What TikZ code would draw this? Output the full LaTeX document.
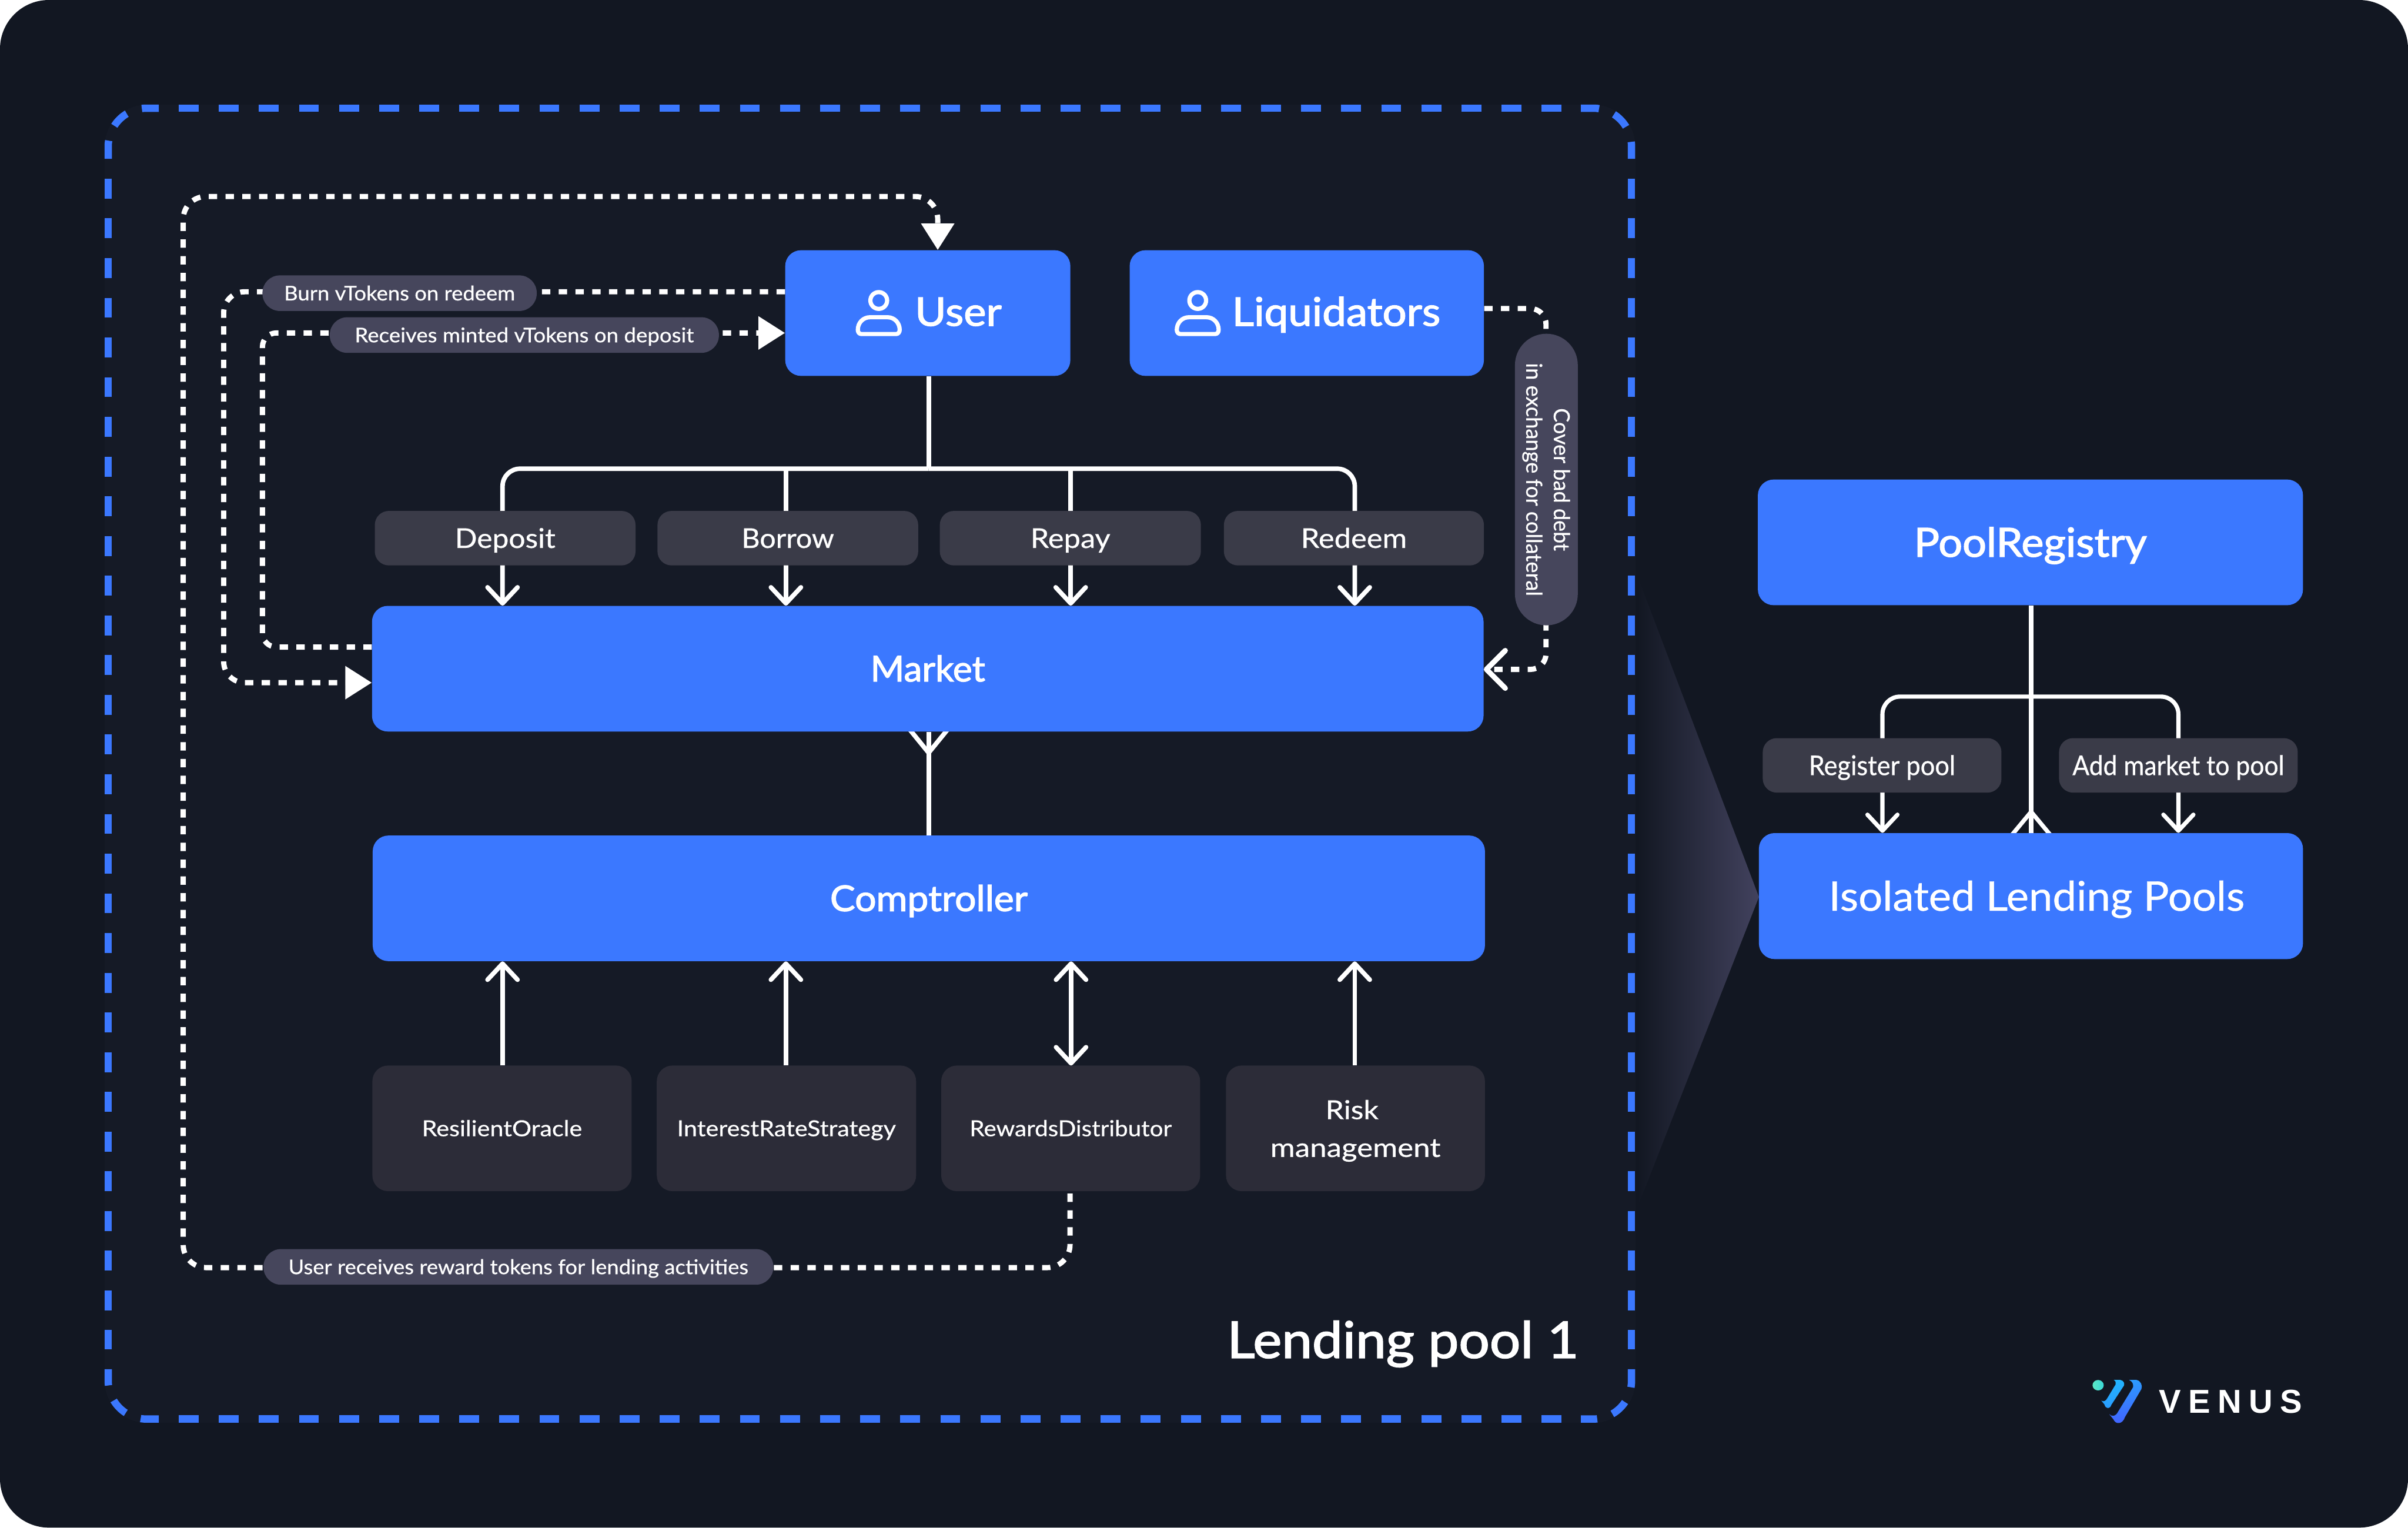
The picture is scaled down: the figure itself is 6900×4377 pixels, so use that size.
\documentclass[tikz,border=0pt]{standalone}
\usepackage{fontspec}
\usepackage{graphicx}
\usetikzlibrary{arrows.meta,calc}
\setmainfont[FakeBold=0.6]{Lato}
\newfontfamily\medfont[FakeBold=2]{Lato}
\newfontfamily\venusfont[LetterSpace=22]{Liberation Sans Bold}
\definecolor{pagebg}{HTML}{121722}
\definecolor{framebg}{HTML}{151A26}
\definecolor{vblue}{HTML}{3B78FF}
\definecolor{actionpill}{HTML}{3A3B48}
\definecolor{lowerbox}{HTML}{2C2C38}
\definecolor{labelpill}{HTML}{46465C}
\definecolor{fanend}{HTML}{42425E}
\definecolor{logomintA}{HTML}{5CE8C4}
\definecolor{logomintB}{HTML}{3AD8D8}
\definecolor{logoA}{HTML}{22B4FF}
\definecolor{logoB}{HTML}{2A9CFF}
\definecolor{logoC}{HTML}{2C9AFF}
\definecolor{logoD}{HTML}{4263FF}
\newlength\ut \setlength\ut{0.01cm}
\newlength\tmpl
\newcommand\fittxt[3]{{\setlength\tmpl{#1\ut}\fontsize{\tmpl}{\tmpl}\selectfont\raisebox{-.358em}[0pt][0pt]{\resizebox{#2\ut}{\height}{#3}}}}
\newcommand\bxnode[7]{\node[#1,minimum width={(#5-#3)*0.01cm},minimum height={(#6-#4)*0.01cm}] (#2) at ({(#3+#5)/2},{(#4+#6)/2}) {#7};}
\newcommand\personicon[1]{\begin{scope}[shift={(#1,0)}]
  \draw[iconline] (0,861) circle [radius=24];
  \draw[iconline] (-50,957) -- (50,957) .. controls (56,957) and (60,952) .. (60,945) .. controls (60,925) and (45,909) .. (25,909) -- (-25,909) .. controls (-45,909) and (-60,925) .. (-60,945) .. controls (-60,952) and (-56,957) .. (-50,957) -- cycle;
\end{scope}}
\pgfdeclarelayer{under}
\pgfsetlayers{under,main}
\tikzset{
  blockbox/.style={fill=vblue,rounded corners=0.45cm,inner sep=0pt,text=white},
  actionbox/.style={fill=actionpill,rounded corners=0.4cm,inner sep=0pt,text=white},
  lowbox/.style={fill=lowerbox,rounded corners=0.45cm,inner sep=0pt,text=white},
  tagpill/.style={fill=labelpill,rounded corners=0.5cm,inner sep=0pt,text=white},
  plaintext/.style={inner sep=0pt,text=white},
  wire/.style={draw=white,line width=0.13cm},
  bentwire/.style={rounded corners=0.5cm},
  wdash/.style={draw=white,line width=0.15cm,dash pattern=on 0.24cm off 0.24cm},
  bluedash/.style={draw=vblue,line width=0.21cm},
  iconline/.style={draw=white,line width=0.12cm,line join=round},
  barb/.style={-{Straight Barb[length=0.46cm,width=0.86cm,round]}},
  bothbarb/.style={{Straight Barb[length=0.46cm,width=0.86cm,round]}-{Straight Barb[length=0.46cm,width=0.86cm,round]}},
  bigbarb/.style={-{Straight Barb[length=0.54cm,width=1.08cm,round]}},
  solidtip/.style={-{Triangle[length=0.76cm,width=0.92cm]}},
}
\begin{document}
\begin{tikzpicture}[x=0.01cm,y=-0.01cm,line cap=butt]
\useasboundingbox (0,0) rectangle (6900,4377);
\begin{pgfonlayer}{under}
\fill[white] (0,0) rectangle (6900,4377);
\fill[pagebg,rounded corners=1.4cm] (0,0) rectangle (6900,4377);
\fill[framebg,rounded corners=1.2cm] (300,300) rectangle (4686,4077);
\shade[left color=pagebg,right color=fanend] (4692,1650) -- (5040,2570) -- (4692,3460) -- cycle;
\draw[bluedash,dash pattern=on 0.57cm off 0.567cm] (310,512) -- (310,3866);
\draw[bluedash,dash pattern=on 0.57cm off 0.567cm] (4675,512) -- (4675,3866);
\draw[bluedash,dash pattern=on 0.57cm off 0.578cm] (512,310) -- (4474,310);
\draw[bluedash,dash pattern=on 0.57cm off 0.578cm] (512,4066) -- (4474,4066);
\foreach \a/\b/\c/\d/\e/\f in {310/455/310/310/455/310,4530/310/4675/310/4675/455,4675/3923/4675/4066/4530/4066,455/4066/310/4066/310/3923}
  \draw[bluedash,rounded corners=1.1cm,dash pattern=on 0.52cm off 0.46cm on 0.5cm off 0.46cm on 0.52cm] (\a,\b) -- (\c,\d) -- (\e,\f);
\end{pgfonlayer}

% main blocks
\bxnode{blockbox}{user}{2250}{717}{3067}{1077}{}
\bxnode{blockbox}{liq}{3237}{717}{4252}{1077}{}
\bxnode{blockbox}{market}{1066}{1736}{4251}{2096}{\medfont\fittxt{102}{329}{Market}}
\bxnode{blockbox}{comp}{1068}{2394}{4255}{2754}{\medfont\fittxt{102}{566}{Comptroller}}
\bxnode{lowbox}{oracle}{1067}{3053}{1810}{3413}{\fittxt{63}{459}{ResilientOracle}}
\bxnode{lowbox}{rate}{1882}{3053}{2625}{3413}{\fittxt{63}{627}{InterestRateStrategy}}
\bxnode{lowbox}{rewards}{2697}{3053}{3439}{3413}{\fittxt{63}{579}{RewardsDistributor}}
\bxnode{lowbox}{risk}{3513}{3053}{4255}{3413}{\makebox[0pt]{\raisebox{0.53cm}[0pt][0pt]{\hspace*{-0.2cm}\fittxt{75}{152}{Risk}}}\makebox[0pt]{\raisebox{-0.55cm}[0pt][0pt]{\fittxt{75}{488}{management}}}}
\bxnode{blockbox}{pool}{5037}{1374}{6599}{1734}{\medfont\fittxt{115}{667}{PoolRegistry}}
\bxnode{blockbox}{iso}{5040}{2387}{6599}{2748}{\hspace*{33\ut}\fittxt{117}{1192}{Isolated Lending Pools}}

\node[plaintext] (usertxt) at (2746,893) {\medfont\fittxt{113}{248}{User}};
\node[plaintext] (liqtxt) at (3829,893) {\medfont\fittxt{113}{597}{Liquidators}};
\personicon{2518}
\personicon{3432}

\coordinate (mfork) at (2661,2157);
\coordinate (ifork) at (5820,2326);
\coordinate (ujoin) at (2661,1343);
\coordinate (rjoin) at (5820,1996);

% forks that run under the blocks
\begin{pgfonlayer}{under}
\draw[wire,miter limit=10] ($(mfork)+(-57,-70)$) -- (mfork) -- ($(mfork)+(57,-70)$);
\draw[wire] (market.south -| mfork) -- (mfork);
\draw[wire,line width=0.12cm,miter limit=10] ($(ifork)+(-59,71)$) -- (ifork) -- ($(ifork)+(59,71)$);
\draw[wire,line width=0.12cm] (ifork) -- (iso.north -| ifork);
\end{pgfonlayer}

% user branches
\draw[wire] (user.south -| ujoin) -- (ujoin);
\draw[wire,bentwire,barb] (ujoin) -- (1440,1343) -- (market.north -| 1440,0);
\draw[wire,bentwire,barb] (ujoin) -- (3882,1343) -- (market.north -| 3882,0);
\draw[wire,barb] (2252,1343) -- (market.north -| 2252,0);
\draw[wire,barb] (3068,1343) -- (market.north -| 3068,0);

% comptroller inputs
\draw[wire,barb] (1440,3053) -- (comp.south -| 1440,0);
\draw[wire,barb] (2252,3053) -- (comp.south -| 2252,0);
\draw[wire,bothbarb] (3069,3053) -- (comp.south -| 3069,0);
\draw[wire,barb] (3882,3053) -- (comp.south -| 3882,0);

% market - comptroller
\draw[wire] (comp.north -| mfork) -- (mfork);

% dashed flows
\draw[wdash,rounded corners=0.65cm,solidtip] (3066,3420) -- (3066,3632) -- (525,3632) -- (525,563) -- (2687,563) -- (user.north -| 2687,0);
\draw[wdash,rounded corners=0.6cm,solidtip] (user.west |- 0,836) -- (641,836) -- (641,1956) -- (market.west |- 0,1956);
\draw[wdash,rounded corners=0.4cm,solidtip] (market.west |- 0,1854) -- (752,1854) -- (752,954) -- (user.west |- 0,954);
\draw[wdash,rounded corners=0.45cm,bigbarb] (liq.east |- 0,884) -- (4430,884) -- (4430,1918) -- (market.east |- 0,1918);

% registry branches
\draw[wire,line width=0.12cm] (pool.south -| rjoin) -- (ifork);
\draw[wire,line width=0.12cm,bentwire,barb] (rjoin) -- (5394,1996) -- (iso.north -| 5394,0);
\draw[wire,line width=0.12cm,bentwire,barb] (rjoin) -- (6242,1996) -- (iso.north -| 6242,0);

% action pills
\bxnode{actionbox}{deposit}{1074}{1464}{1821}{1620}{\fittxt{78}{288}{Deposit}}
\bxnode{actionbox}{borrow}{1884}{1464}{2631}{1620}{\fittxt{78}{265}{Borrow}}
\bxnode{actionbox}{repay}{2693}{1464}{3441}{1620}{\fittxt{78}{229}{Repay}}
\bxnode{actionbox}{redeem}{3507}{1464}{4252}{1620}{\fittxt{78}{304}{Redeem}}
\bxnode{actionbox}{regpool}{5051}{2115}{5735}{2271}{\fittxt{78}{420}{Register pool}}
\bxnode{actionbox}{addmkt}{5900}{2115}{6584}{2271}{\fittxt{78}{607}{Add market to pool}}

% flow label pills
\bxnode{tagpill}{burn}{752}{789}{1538}{891}{\fittxt{58}{662}{Burn vTokens on redeem}}
\bxnode{tagpill}{mint}{945}{909}{2060}{1011}{\fittxt{58}{972}{Receives minted vTokens on deposit}}
\bxnode{tagpill}{reward}{755}{3579}{2216}{3681}{\fittxt{58}{1318}{User receives reward tokens for lending activities}}
\node[tagpill,rounded corners=0.9cm,rotate=-90,minimum width=8.35cm,minimum height=1.8cm] (cover) at (4431,1374) {\makebox[0pt]{\raisebox{0.44cm}[0pt][0pt]{\fittxt{63}{409}{Cover bad debt}}}\makebox[0pt]{\raisebox{-0.35cm}[0pt][0pt]{\fittxt{63}{668}{in exchange for collateral}}}};

\node[plaintext] (pooltitle) at (4020,3839) {\medfont\fittxt{145}{1008}{Lending pool 1}};

% logo
\shade[left color=logomintA,right color=logomintB] (6012,3969) ellipse [x radius=16,y radius=15];
\shade[top color=logoA,bottom color=logoB] (6057,3954) -- (6076,3954) .. controls (6086,3956) and (6088,3964) .. (6086,3970) -- (6050,4025) .. controls (6046,4038) and (6034,4038) .. (6030,4024) -- (6021,4013) .. controls (6028,4017) and (6034,4015) .. (6039,4005) -- (6062,3967) .. controls (6064,3962) and (6062,3957) .. (6057,3954) -- cycle;
\shade[top color=logoC,bottom color=logoD] (6101,3954) -- (6122,3954) .. controls (6134,3956) and (6140,3970) .. (6136,3980) -- (6089,4060) .. controls (6082,4082) and (6062,4082) .. (6056,4067) -- (6044,4052) .. controls (6052,4060) and (6062,4058) .. (6068,4047) -- (6112,3975) .. controls (6114,3966) and (6110,3958) .. (6101,3954) -- cycle;
\node[plaintext] (venus) at (6392,4015) {\venusfont\fittxt{95}{410}{VENUS}};
\end{tikzpicture}
\end{document}
